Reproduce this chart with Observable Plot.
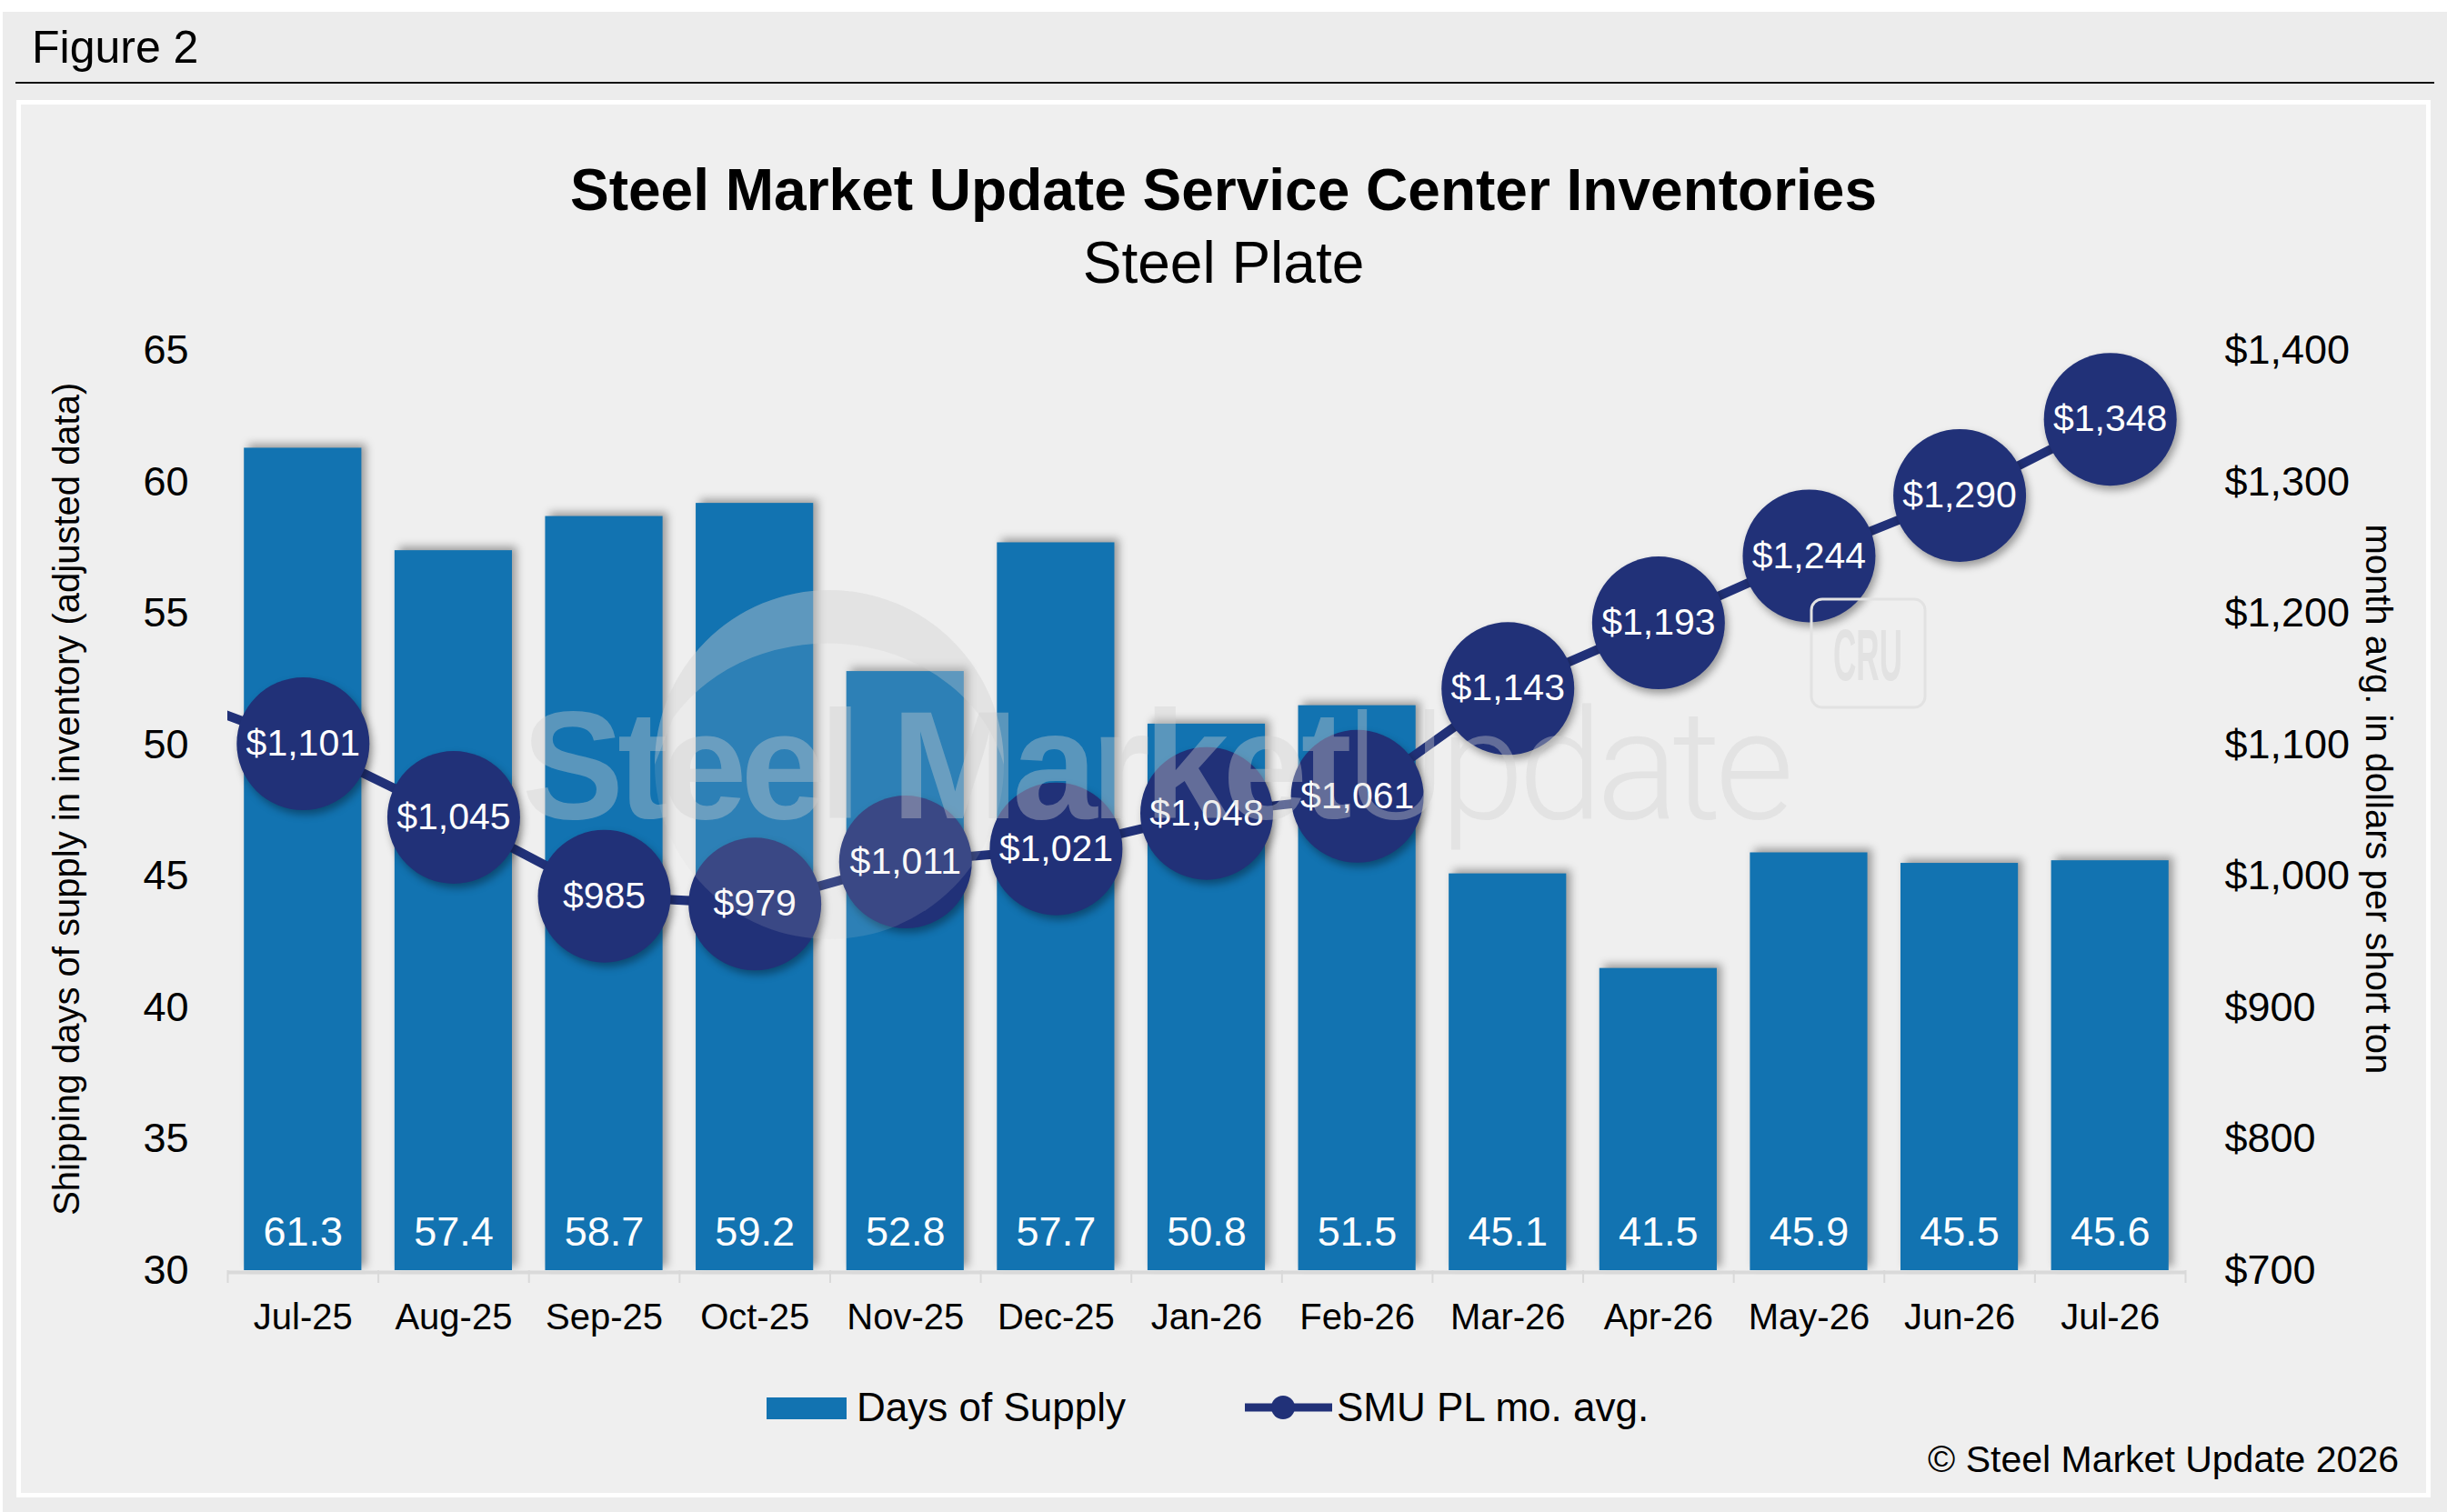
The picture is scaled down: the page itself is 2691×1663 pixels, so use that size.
<!DOCTYPE html>
<html>
<head>
<meta charset="utf-8">
<script src="https://cdn.jsdelivr.net/npm/d3@7"></script>
<script src="https://cdn.jsdelivr.net/npm/@observablehq/plot@0.6"></script>
<style>
  html, body { margin: 0; padding: 0; }
  body { width: 2691px; height: 1663px; position: relative; overflow: hidden; background: #ffffff;
         font-family: "Liberation Sans", Arial, Helvetica, sans-serif; color: #000; }
  .abs { position: absolute; white-space: nowrap; line-height: 1; }
  #outer { left: 3px; top: 13px; width: 2688px; height: 1650px; background: #ececec; }
  #rule { left: 17px; top: 90px; width: 2660px; height: 2px; background: #111; }
  #panel { left: 18px; top: 110px; width: 2655px; height: 1537px; background: #efefef;
           border: 5px solid #ffffff; box-sizing: border-box; }
  #chart { left: 0; top: 0; }
  #chart g[aria-label="rect"] { filter: drop-shadow(5px -4px 5px rgba(0,0,0,0.35)); }
  #chart g[aria-label="dot"] { filter: drop-shadow(3px 5px 4px rgba(0,0,0,0.35)); }
  #wm { left: 0; top: 0; pointer-events: none; }
</style>
</head>
<body>
<div class="abs" id="outer"></div>
<div class="abs" id="rule"></div>
<div class="abs" id="panel"></div>
<div class="abs" style="left:35px; top:27px; font-size:50px;">Figure 2</div>
<div class="abs" style="left:0; width:2691px; text-align:center; top:177px; font-size:64px; font-weight:bold;">Steel Market Update Service Center Inventories</div>
<div class="abs" style="left:0; width:2691px; text-align:center; top:257px; font-size:64px;">Steel Plate</div>
<div class="abs" id="chart"></div>
<svg class="abs" id="wm" width="2691" height="1663">
  <circle cx="912" cy="841" r="192" fill="#d2d2d2" fill-opacity="0.14"></circle>
  <path d="M 720 841 A 192 192 0 0 1 1104 841 A 200 175 0 0 0 740 790 Z" fill="#d2d2d2" fill-opacity="0.3"></path>
  <text x="574" y="900" font-size="168" font-weight="bold" letter-spacing="-7" fill="#cfcfcf" fill-opacity="0.38">Steel Market<tspan font-weight="300" font-family="Roboto, 'Liberation Sans', sans-serif">Update</tspan></text>
  <rect x="1992" y="659" width="125" height="119" rx="12" fill="none" stroke="#e2e2e2" stroke-width="3"></rect>
  <text x="2016" y="748" font-size="80" font-weight="bold" fill="#e2e2e2" textLength="76" lengthAdjust="spacingAndGlyphs">CRU</text>
</svg>
<!-- legend -->
<div class="abs" style="left:843px; top:1537px; width:88px; height:24px; background:#1273b1;"></div>
<div class="abs" style="left:942px; top:1526px; font-size:44px;">Days of Supply</div>
<svg class="abs" style="left:1369px; top:1530px;" width="96" height="36">
  <line x1="0" y1="18" x2="96" y2="18" stroke="#213178" stroke-width="9"></line>
  <circle cx="42" cy="18" r="13" fill="#213178"></circle>
</svg>
<div class="abs" style="left:1470px; top:1526px; font-size:44px;">SMU PL mo. avg.</div>
<div class="abs" style="right:53px; top:1585px; font-size:41px;">© Steel Market Update 2026</div>

<script>
// ---- data ----
const months = ["Jul-25","Aug-25","Sep-25","Oct-25","Nov-25","Dec-25","Jan-26","Feb-26","Mar-26","Apr-26","May-26","Jun-26","Jul-26"];
const daysOfSupply = [61.3, 57.4, 58.7, 59.2, 52.8, 57.7, 50.8, 51.5, 45.1, 41.5, 45.9, 45.5, 45.6];
const platePrice = [1101, 1045, 985, 979, 1011, 1021, 1048, 1061, 1143, 1193, 1244, 1290, 1348];
const priorMonthPrice = 1144; // Jun-25, only its segment enters the chart at left
const leftTicks = [30, 35, 40, 45, 50, 55, 60, 65];
const rightTicks = [700, 800, 900, 1000, 1100, 1200, 1300, 1400];

// right axis ($700–$1,400) shares the left axis (30–65) geometry
const priceToY = p => 30 + (p - 700) / 20;
const yToPrice = y => 700 + (y - 30) * 20;

const bars = months.map((m, i) => ({i, month: m, days: daysOfSupply[i], price: platePrice[i]}));
const linePts = [{i: -1, price: priorMonthPrice}, ...bars.map(d => ({i: d.i, price: d.price}))];
const boundaries = d3.range(-0.5, months.length, 1);

const barColor = "#1273b1";
const navy = "#213178";
const fmtDollar = v => "$" + d3.format(",")(v);

const chart = Plot.plot({
  width: 2691,
  height: 1663,
  marginLeft: 250,
  marginRight: 288,
  marginTop: 385.5,
  marginBottom: 266,
  style: {background: "transparent", fontFamily: "'Liberation Sans', Arial, Helvetica, sans-serif", color: "#000", overflow: "visible"},
  x: {type: "linear", domain: [-0.5, months.length - 0.5], label: null},
  y: {domain: [30, 65], label: null},
  marks: [
    Plot.rectY(bars, {x1: d => d.i - 0.39, x2: d => d.i + 0.39, y1: 30, y2: "days", fill: barColor}),
    Plot.ruleY([30], {stroke: "#d9d9d9", strokeWidth: 4, dy: 2}),
    Plot.axisX(boundaries, {tickSize: 14, tickFormat: () => "", stroke: "#d9d9d9", strokeWidth: 2, label: null}),
    Plot.axisX(bars.map(d => d.i), {tickSize: 0, tickPadding: 36, tickFormat: i => months[i], fontSize: 40, fill: "#000", label: null}),
    Plot.axisY(leftTicks, {anchor: "left", tickSize: 0, tickPadding: 43, fontSize: 45, fill: "#000", label: null}),
    Plot.axisY(rightTicks.map(priceToY), {anchor: "right", tickSize: 0, tickPadding: 43, fontSize: 45, fill: "#000", label: null,
      tickFormat: y => fmtDollar(Math.round(yToPrice(y)))}),
    Plot.text(["Shipping days of supply in inventory (adjusted data)"], {frameAnchor: "left", textAnchor: "middle", dx: -176, dy: -13, rotate: -90, fontSize: 40, fill: "#000"}),
    Plot.text(["month avg. in dollars per short ton"], {frameAnchor: "right", textAnchor: "middle", dx: 211, dy: -13, rotate: 90, fontSize: 40, fill: "#000"}),
    Plot.text(bars, {x: "i", y: () => 30, dy: -42, text: d => d3.format(".1f")(d.days), fill: "#fff", fontSize: 45}),
    Plot.line(linePts, {x: "i", y: d => priceToY(d.price), stroke: navy, strokeWidth: 10, clip: true}),
    Plot.dot(bars, {x: "i", y: d => priceToY(d.price), r: 73, fill: navy}),
    Plot.text(bars, {x: "i", y: d => priceToY(d.price), text: d => fmtDollar(d.price), fill: "#fff", fontSize: 41})
  ]
});
document.getElementById("chart").appendChild(chart);
</script>
</body>
</html>
